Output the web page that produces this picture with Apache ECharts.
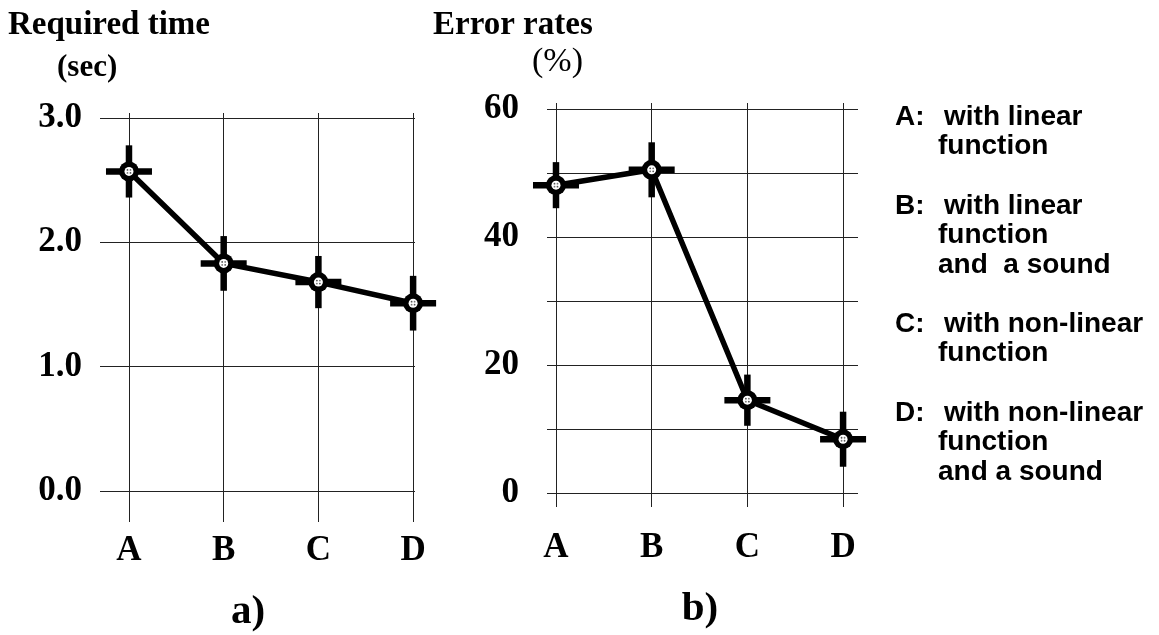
<!DOCTYPE html>
<html><head><meta charset="utf-8">
<script src="https://cdn.jsdelivr.net/npm/echarts@6/dist/echarts.min.js"></script>
<style>html,body{margin:0;padding:0;background:#fff}#c{width:1159px;height:635px}</style>
</head><body><div id="c"></div>
<script>
// ---- data ----
const categories = ['A', 'B', 'C', 'D'];
const categoryIndex = [0, 1, 2, 3];
const timeValues = [2.57, 1.83, 1.68, 1.51];      // Required time (sec)
const timeErrors = [0.21, 0.22, 0.21, 0.22];
const errorValues = [48.1, 50.5, 14.5, 8.4];      // Error rates (%)
const errorErrors = [3.6, 4.3, 4.0, 4.3];
const timeTicks = [0, 1, 2, 3];
const errorGridTicks = [0, 10, 20, 30, 40, 50, 60];
const errorLabelTicks = [0, 20, 40, 60];
const legendKeys = ['A:', 'B:', 'C:', 'D:'];
const legendLines = [
  ['with linear', 'function'],
  ['with linear', 'function', 'and  a sound'],
  ['with non-linear', 'function'],
  ['with non-linear', 'function', 'and a sound']
];

const SERIF = '"Liberation Serif", "Times New Roman", serif';
const SANS = '"Liberation Sans", Arial, sans-serif';

function renderCross(params, api) {
  const x = api.value(0), y = api.value(1), e = api.value(2);
  const c = api.coord([x, y]);
  const top = api.coord([x, y + e]);
  const bot = api.coord([x, y - e]);
  const arm = 23, t = 6.5;
  return {
    type: 'group',
    children: [
      { type: 'rect', shape: { x: c[0] - t / 2, y: top[1], width: t, height: bot[1] - top[1] }, style: { fill: '#000' } },
      { type: 'rect', shape: { x: c[0] - arm, y: c[1] - t / 2, width: 2 * arm, height: t }, style: { fill: '#000' } },
      { type: 'circle', shape: { cx: c[0], cy: c[1], r: 10 }, style: { fill: '#000' } },
      { type: 'circle', shape: { cx: c[0], cy: c[1], r: 4.5 }, style: { fill: '#fff' } },
      { type: 'circle', shape: { cx: c[0] - 1.5, cy: c[1] - 1.5, r: 0.9 }, style: { fill: '#555' } },
      { type: 'circle', shape: { cx: c[0] + 1.5, cy: c[1] + 1.5, r: 0.9 }, style: { fill: '#555' } },
      { type: 'circle', shape: { cx: c[0] + 1.5, cy: c[1] - 1.5, r: 0.9 }, style: { fill: '#777' } },
      { type: 'circle', shape: { cx: c[0] - 1.5, cy: c[1] + 1.5, r: 0.9 }, style: { fill: '#777' } }
    ]
  };
}

const gridLine = { show: true, lineStyle: { color: '#222', width: 1, type: 'solid' } };

function xAxisFor(gridIndex, min, max, margin) {
  return {
    gridIndex, type: 'value', min, max, position: 'bottom',
    axisLine: { show: false },
    axisTick: { show: false, customValues: categoryIndex },
    splitLine: gridLine,
    axisLabel: {
      customValues: categoryIndex, margin,
      formatter: v => categories[Math.round(v)] || '',
      color: '#000', fontFamily: SERIF, fontWeight: 'bold', fontSize: 35
    }
  };
}

const graphics = [
  { type: 'text', style: { x: 8, y: 25, text: 'Required time', font: 'bold 33px ' + SERIF, fill: '#000', textVerticalAlign: 'middle' } },
  { type: 'text', style: { x: 57, y: 68, text: '(sec)', font: 'bold 31px ' + SERIF, fill: '#000', textVerticalAlign: 'middle' } },
  { type: 'text', style: { x: 433, y: 25, text: 'Error rates', font: 'bold 33px ' + SERIF, fill: '#000', textVerticalAlign: 'middle' } },
  { type: 'text', style: { x: 532, y: 62, text: '(%)', font: '34px ' + SERIF, fill: '#000', textVerticalAlign: 'middle' } },
  { type: 'text', style: { x: 248, y: 612, text: 'a)', font: 'bold 41px ' + SERIF, fill: '#000', textAlign: 'center', textVerticalAlign: 'middle' } },
  { type: 'text', style: { x: 700, y: 609, text: 'b)', font: 'bold 41px ' + SERIF, fill: '#000', textAlign: 'center', textVerticalAlign: 'middle' } }
];
const legendTops = [117, 206, 324, 413];
legendKeys.forEach((k, i) => {
  graphics.push({ type: 'text', style: { x: 895, y: legendTops[i], text: k, font: 'bold 28px ' + SANS, fill: '#000', textVerticalAlign: 'middle' } });
  legendLines[i].forEach((line, j) => {
    graphics.push({ type: 'text', style: { x: j === 0 ? 944 : 938, y: legendTops[i] + j * 29.5, text: line, font: 'bold 28px ' + SANS, fill: '#000', textVerticalAlign: 'middle' } });
  });
});

const option = {
  backgroundColor: '#fff',
  animation: false,
  grid: [
    { left: 100, top: 113, width: 315, height: 409 },
    { left: 547, top: 103, width: 311, height: 404 }
  ],
  xAxis: [
    xAxisFor(0, -0.306, 3.02, 11),
    xAxisFor(1, -0.094, 3.156, 23)
  ],
  yAxis: [
    {
      gridIndex: 0, type: 'value', min: -0.25, max: 3.04,
      axisLine: { show: false },
      axisTick: { show: false, customValues: timeTicks },
      splitLine: gridLine,
      axisLabel: { customValues: timeTicks, margin: 18, formatter: v => v.toFixed(1), color: '#000', fontFamily: SERIF, fontWeight: 'bold', fontSize: 35 }
    },
    {
      gridIndex: 1, type: 'value', min: -2.19, max: 60.94,
      axisLine: { show: false },
      axisTick: { show: false, customValues: errorGridTicks },
      splitLine: gridLine,
      axisLabel: { customValues: errorLabelTicks, margin: 28, formatter: v => String(Math.round(v)), color: '#000', fontFamily: SERIF, fontWeight: 'bold', fontSize: 35 }
    }
  ],
  series: [
    { type: 'line', xAxisIndex: 0, yAxisIndex: 0, data: categoryIndex.map(i => [i, timeValues[i]]), showSymbol: false, symbol: 'none', lineStyle: { color: '#000', width: 5.5 }, z: 2 },
    { type: 'custom', xAxisIndex: 0, yAxisIndex: 0, renderItem: renderCross, data: categoryIndex.map(i => [i, timeValues[i], timeErrors[i]]), encode: { x: 0, y: 1 }, z: 3 },
    { type: 'line', xAxisIndex: 1, yAxisIndex: 1, data: categoryIndex.map(i => [i, errorValues[i]]), showSymbol: false, symbol: 'none', lineStyle: { color: '#000', width: 5.5 }, z: 2 },
    { type: 'custom', xAxisIndex: 1, yAxisIndex: 1, renderItem: renderCross, data: categoryIndex.map(i => [i, errorValues[i], errorErrors[i]]), encode: { x: 0, y: 1 }, z: 3 }
  ],
  graphic: graphics
};

const chart = echarts.init(document.getElementById('c'), null, { renderer: 'canvas' });
chart.setOption(option);
</script>
</body></html>
